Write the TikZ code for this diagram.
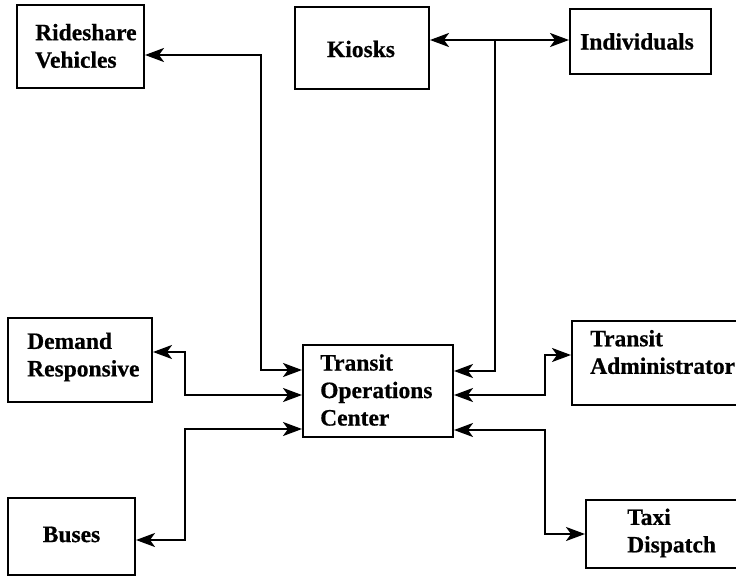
\documentclass[tikz,border=0pt]{standalone}
\usepackage{fontspec}
\setmainfont[BoldFeatures={FakeBold=0.6}]{Liberation Serif}
\usetikzlibrary{arrows.meta}
\begin{document}
\begin{tikzpicture}[x=1pt,y=-1pt,
  box/.style={draw, line width=2pt, inner sep=0pt},
  lbl/.style={font=\fontsize{23.5}{27.5}\selectfont\bfseries, align=left, inner sep=0pt},
  head/.tip={Stealth[length=19pt,width=14pt,inset=5pt]},
  link/.style={line width=2.2pt, head-head},
  tip/.style={line width=2.2pt, -head}]
\useasboundingbox (0,0) rectangle (736,576);

% boxes
\node[box, minimum width=127pt, minimum height=83pt] (ride)   at (80.5,46.5) {};
\node[box, minimum width=134pt, minimum height=82pt] (kiosk)  at (362,48) {};
\node[box, minimum width=141pt, minimum height=65pt] (indiv)  at (640.5,41.5) {};
\node[box, minimum width=144pt, minimum height=84pt] (demand) at (80,360) {};
\node[box, minimum width=127pt, minimum height=77pt] (buses)  at (71.5,536.5) {};
\node[box, minimum width=150pt, minimum height=92pt] (toc)    at (378,391) {};
\node[box, minimum width=173pt, minimum height=84pt] (admin)  at (658.5,363) {};
\node[box, minimum width=159pt, minimum height=68pt] (taxi)   at (665.5,534) {};

% labels
\node[lbl, anchor=west] (rideT)   at (35,46)    {Rideshare\\Vehicles};
\node[lbl]              (kioskT)  at (361,49)   {Kiosks};
\node[lbl]              (indivT)  at (637,41.5) {Individuals};
\node[lbl, anchor=west] (demandT) at (27,357)   {Demand\\Responsive};
\node[lbl]              (busesT)  at (71.5,534.5) {Buses};
\node[lbl, anchor=west] (tocT)    at (320,390)  {Transit\\Operations\\Center};
\node[lbl, anchor=west] (adminT)  at (590,352)  {Transit\\Administrator};
\node[lbl, anchor=west] (taxiT)   at (627,533)  {Taxi\\Dispatch};

% connectors
\draw[link] (ride.east |- 0,55) -| (261,370) -- (toc.west |- 0,370);
\draw[link] (kiosk.east |- 0,40) -- (indiv.west |- 0,40);
\coordinate (kj) at (495,40);
\draw[tip] (kj) |- (toc.east |- 0,371);
\draw[link] (demand.east |- 0,352) -| (185,395) -- (toc.west |- 0,395);
\draw[link] (buses.east |- 0,540) -| (185,429) -- (toc.west |- 0,429);
\draw[link] (toc.east |- 0,395) -| (545,355) -- (admin.west |- 0,355);
\draw[link] (toc.east |- 0,430) -| (545,534) -- (taxi.west |- 0,534);
\end{tikzpicture}
\end{document}
